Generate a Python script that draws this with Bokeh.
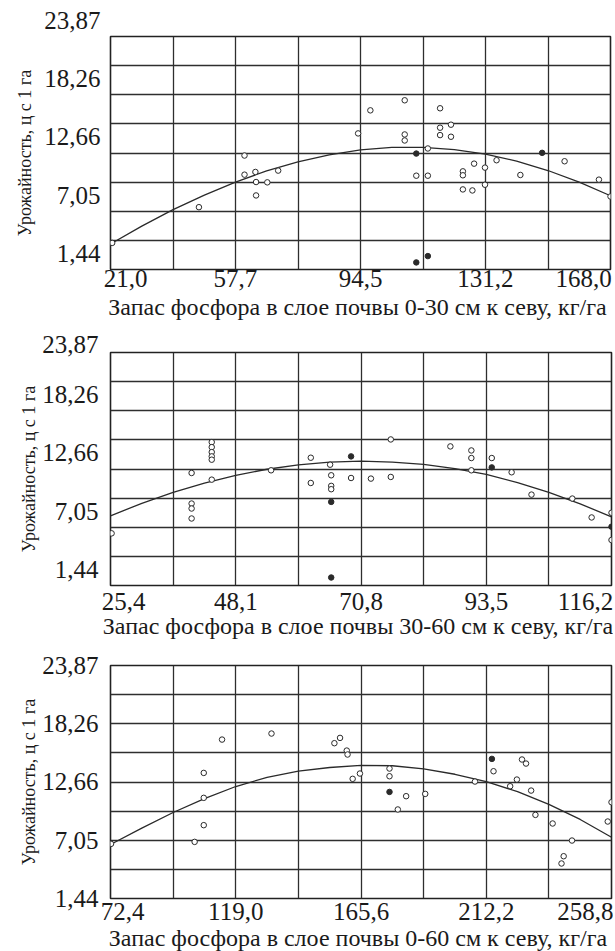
import numpy as np
from bokeh.plotting import figure
from bokeh.models import FixedTicker, Range1d, Grid
from bokeh.layouts import column
from bokeh.embed import file_html
from bokeh.resources import INLINE

FONT = "Liberation Serif"
INK = "#1a1a1a"

# ---- shared y axis ----
y_ticks = [1.44, 7.05, 12.66, 18.26, 23.87]
y_tick_labels = ["1,44", "7,05", "12,66", "18,26", "23,87"]
y_title = "Урожайность, ц с 1 га"

# ---- panel 1: 0-30 cm ----
x1_ticks = [21.0, 57.7, 94.5, 131.2, 168.0]
x1_tick_labels = ["21,0", "57,7", "94,5", "131,2", "168,0"]
x1_title = "Запас фосфора  в слое почвы 0-30 см к севу, кг/га"
p1_x = [21.5, 47.0, 60.4, 60.4, 63.6, 63.8, 67.1, 63.8, 70.3, 93.8, 97.4, 107.5,
        107.5, 107.5, 110.9, 114.3, 114.3, 117.9, 117.9, 117.9, 121.1, 121.1, 124.6,
        124.6, 124.6, 127.4, 127.9, 131.1, 131.1, 134.5, 141.5, 154.5, 164.6, 168.0]
p1_y = [4.0, 7.44, 12.41, 10.57, 10.83, 9.86, 9.83, 8.57, 10.96, 14.54, 16.76, 17.73,
        14.44, 13.86, 10.47, 13.09, 10.47, 16.96, 15.09, 14.38, 15.38, 14.22, 10.89,
        10.51, 9.15, 9.05, 11.63, 11.25, 9.60, 11.96, 10.54, 11.86, 10.09, 8.47]
f1_x = [110.9, 147.9, 110.9, 114.3]
f1_y = [12.60, 12.67, 2.12, 2.73]
c1_x = [21.0, 30.2, 39.4, 48.6, 57.75, 66.9, 76.1, 85.3, 94.5, 103.7, 112.9, 122.1,
        131.25, 140.4, 149.6, 158.8, 168.0]
c1_y = [3.89, 5.62, 7.2, 8.6, 9.86, 10.93, 11.8, 12.47, 12.95, 13.2, 13.2, 12.98,
        12.55, 11.88, 10.97, 9.85, 8.54]

# ---- panel 2: 30-60 cm ----
x2_ticks = [25.4, 48.1, 70.8, 93.5, 116.2]
x2_tick_labels = ["25,4", "48,1", "70,8", "93,5", "116,2"]
x2_title = "Запас фосфора  в слое почвы 30-60 см к севу, кг/га"
p2_x = [25.6, 40.1, 40.1, 40.1, 40.1, 43.75, 43.75, 43.75, 43.75, 43.75, 43.75, 54.5,
        61.7, 61.7, 65.2, 65.4, 65.4, 65.4, 69.0, 72.6, 76.2, 76.2, 87.0, 90.8, 90.8,
        90.8, 94.5, 98.1, 101.7, 109.1, 112.6, 116.2, 116.2]
p2_y = [6.46, 12.27, 9.33, 8.85, 7.89, 15.24, 14.76, 14.28, 13.87, 13.55, 11.63, 12.53,
        13.74, 11.31, 13.07, 12.05, 11.03, 10.71, 11.79, 11.73, 15.5, 11.89, 14.83, 14.44,
        13.71, 12.53, 13.71, 12.34, 10.19, 9.81, 7.99, 8.44, 5.82]
f2_x = [65.4, 69.0, 94.5, 116.2, 65.4]
f2_y = [9.49, 13.87, 12.81, 7.1, 2.21]
c2_x = [25.4, 31.075, 36.75, 42.425, 48.1, 53.775, 59.45, 65.125, 70.8, 76.475, 82.15,
        87.825, 93.5, 99.175, 104.85, 110.525, 116.2]
c2_y = [8.15, 9.35, 10.4, 11.3, 12.05, 12.63, 13.05, 13.32, 13.42, 13.32, 13.1, 12.7,
        12.13, 11.35, 10.4, 9.3, 8.05]

# ---- panel 3: 0-60 cm ----
x3_ticks = [72.4, 119.0, 165.6, 212.2, 258.8]
x3_tick_labels = ["72,4", "119,0", "165,6", "212,2", "258,8"]
x3_title = "Запас фосфора  в слое почвы 0-60 см к севу, кг/га"
p3_x = [72.6, 103.7, 107.1, 107.1, 107.1, 113.9, 132.3, 155.7, 157.8, 160.3, 160.6,
        162.5, 165.2, 176.2, 176.2, 182.4, 189.5, 179.3, 208.0, 214.9, 225.5, 227.0,
        223.6, 221.1, 228.9, 230.5, 236.9, 244.1, 241.0, 240.2, 257.4, 258.8]
p3_y = [6.7, 6.89, 8.50, 11.13, 13.53, 16.74, 17.32, 16.39, 16.90, 15.68, 15.30,
        12.96, 13.47, 13.95, 13.21, 11.29, 11.51, 10.01, 12.7, 13.69, 14.82, 14.43,
        12.89, 12.25, 11.83, 9.49, 8.66, 7.02, 5.51, 4.81, 8.85, 10.71]
f3_x = [176.2, 214.3]
f3_y = [11.7, 14.88]
c3_x = [72.4, 84.05, 95.7, 107.35, 119.0, 130.65, 142.3, 153.95, 165.6, 177.25, 188.9,
        200.55, 212.2, 223.85, 235.5, 247.15, 258.8]
c3_y = [6.64, 8.22, 9.72, 11.05, 12.22, 13.1, 13.7, 14.05, 14.25, 14.22, 13.92, 13.4,
        12.68, 11.72, 10.5, 9.05, 7.34]


def panel(xt, xl, xtitle, px, py, fx, fy, cx, cy, g):
    x0, x1 = xt[0], xt[-1]
    y0, y1 = y_ticks[0], y_ticks[-1]
    p = figure(title=None, frame_width=g["fw"], frame_height=233,
               min_border_left=g["left"], min_border_right=g["right"],
               min_border_top=g["top"], min_border_bottom=g["bottom"],
               x_range=Range1d(x0, x1), y_range=Range1d(y0, y1),
               toolbar_location=None, output_backend="svg",
               background_fill_color="white", border_fill_color="white")
    p.grid.visible = False
    p.outline_line_color = "#222222"
    p.outline_line_width = 1.6

    # grid: 8 x 8 cells
    gx = [float(v) for v in np.linspace(x0, x1, 9)]
    gy = [float(v) for v in np.linspace(y0, y1, 9)]
    for dim, ticks in ((0, gx), (1, gy)):
        p.add_layout(Grid(dimension=dim, ticker=FixedTicker(ticks=ticks),
                          grid_line_color="#2e2e2e", grid_line_width=1.3))

    # x axis: edge labels kept inside the box as in the original
    span = x1 - x0
    xpos, xover = [], {}
    for i, (v, t) in enumerate(zip(xt, xl)):
        shift = g["xshift"][i] * span / g["fw"]
        pos = round(v + shift, 4)
        xpos.append(pos)
        xover[pos] = t
    xa = p.xaxis[0]
    xa.ticker = FixedTicker(ticks=xpos)
    xa.major_label_overrides = xover
    xa.axis_label = xtitle

    # y axis: labels printed slightly above their grid line
    ya = p.yaxis[0]
    ya.ticker = FixedTicker(ticks=y_ticks)
    ya.major_label_overrides = {v: t + g["ysuffix"] for v, t in zip(y_ticks, y_tick_labels)}
    ya.axis_label = y_title

    for ax in (xa, ya):
        ax.axis_line_color = None
        ax.major_tick_line_color = None
        ax.minor_tick_line_color = None
        ax.major_tick_out = 0
        ax.major_tick_in = 0
        ax.major_label_text_font = FONT
        ax.major_label_text_font_size = "25px"
        ax.major_label_text_color = INK
        ax.axis_label_text_font = FONT
        ax.axis_label_text_font_style = "normal"
        ax.axis_label_text_color = INK
    xa.axis_label_text_font_size = "24px"
    ya.axis_label_text_font_size = "18px"
    xa.major_label_standoff = g["xstand"]
    xa.axis_label_standoff = g["xtstand"]
    ya.major_label_standoff = g["ystand"]
    ya.axis_label_standoff = g["ytstand"]

    p.line(cx, cy, line_color="#2a2a2a", line_width=1.3)
    p.scatter(px, py, marker="circle", size=5.5, fill_color="white",
              line_color="#2a2a2a", line_width=1)
    p.scatter(fx, fy, marker="circle", size=5.5, fill_color="#2a2a2a",
              line_color="#2a2a2a", line_width=1)
    return p


g1 = dict(fw=500, left=110, right=3, top=36, bottom=61, ysuffix="\n", ystand=10,
          ytstand=6, xshift=[15, 0, 0, 0, -27], xstand=0, xtstand=4)
g2 = dict(fw=501, left=106, right=6, top=22, bottom=60, ysuffix="\n", ystand=12,
          ytstand=0, xshift=[13, 0, 0, 0, -26], xstand=7, xtstand=0)
g3 = dict(fw=501, left=106, right=6, top=20, bottom=51, ysuffix="", ystand=12,
          ytstand=0, xshift=[12, 0, 0, 0, -25], xstand=4, xtstand=2)

fig1 = panel(x1_ticks, x1_tick_labels, x1_title, p1_x, p1_y, f1_x, f1_y, c1_x, c1_y, g1)
fig2 = panel(x2_ticks, x2_tick_labels, x2_title, p2_x, p2_y, f2_x, f2_y, c2_x, c2_y, g2)
fig3 = panel(x3_ticks, x3_tick_labels, x3_title, p3_x, p3_y, f3_x, f3_y, c3_x, c3_y, g3)

layout = column(fig1, fig2, fig3, spacing=0)
open("out.html", "w").write(file_html(layout, INLINE))
